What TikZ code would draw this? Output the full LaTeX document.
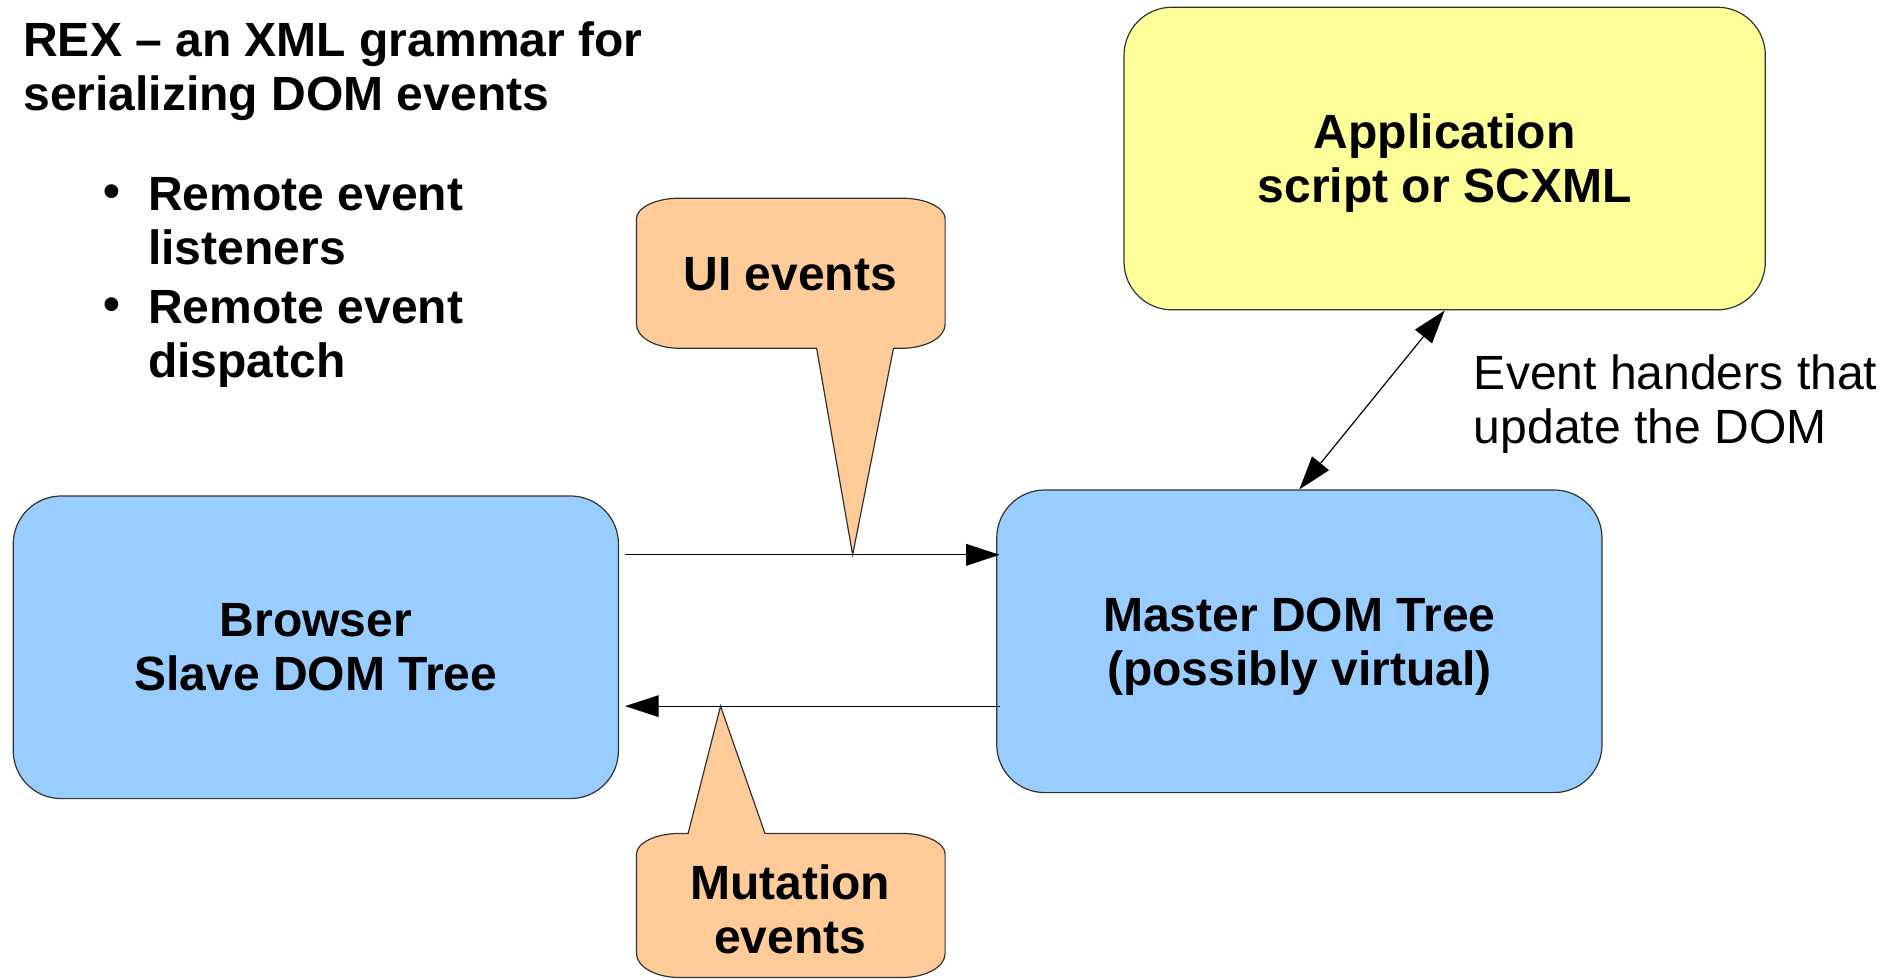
\documentclass[tikz,border=0pt]{standalone}
\usepackage{fontspec}
\setmainfont{Liberation Sans}
\usetikzlibrary{arrows.meta}
\definecolor{boxblue}{HTML}{99CCFF}
\definecolor{boxyellow}{HTML}{FFFF99}
\definecolor{calloutorange}{HTML}{FFCC99}
\definecolor{edgegray}{HTML}{333333}

\begin{document}
\begin{tikzpicture}[x=0.5pt,y=-0.5pt,
  txt/.style={font=\fontsize{20pt}{22.5pt}\selectfont, inner sep=0pt},
  boldtxt/.style={font=\bfseries\fontsize{20pt}{22.5pt}\selectfont, inner sep=0pt},
  block/.style={draw=edgegray, line width=0.5pt, rounded corners=20pt,
    minimum height=126pt, align=center, inner sep=0pt, text depth=0pt,
    font=\bfseries\fontsize{20pt}{22.5pt}\selectfont},
  bubble/.style={draw=edgegray, line width=0.5pt, fill=calloutorange, line join=miter},
  arr/.style={line width=0.5pt, -{Triangle[length=14pt,width=9pt]}},
  dblarr/.style={line width=0.5pt, {Triangle[length=14pt,width=9pt]}-{Triangle[length=14pt,width=9pt]}}]

\useasboundingbox (0,0) rectangle (1568,816);

% heading and bullet list (multi-line nodes sit on the baseline of their last line)
\node[boldtxt, anchor=base west, align=left] (title) at (19,92)
  {REX – an XML grammar for\\serializing DOM events};
\node[boldtxt, anchor=base west] (dot1) at (86,173) {•};
\node[boldtxt, anchor=base west, align=left] (item1) at (123,220) {Remote event\\listeners};
\node[boldtxt, anchor=base west] (dot2) at (86,267) {•};
\node[boldtxt, anchor=base west, align=left] (item2) at (123,314) {Remote event\\dispatch};

% main boxes
\node[block, fill=boxblue, minimum width=252pt] (browser) at (263,539) {Browser\\Slave DOM Tree};
\node[block, fill=boxblue, minimum width=252pt] (master) at (1082,534) {Master DOM Tree\\(possibly virtual)};
\node[block, fill=boxyellow, minimum width=267pt] (app) at (1203,132) {Application\\script or SCXML};

% callout for UI events
\draw[bubble] (566,165) -- (751,165)
  .. controls (771,165) and (787,173) .. (787,182)
  -- (787,270)
  .. controls (787,281) and (771,290) .. (751,290)
  -- (744,290) -- (710,462) -- (680,290)
  -- (566,290)
  .. controls (546,290) and (530,281) .. (530,270)
  -- (530,182)
  .. controls (530,173) and (546,165) .. (566,165) -- cycle;
\node[boldtxt] (ui) at (658,228) {UI events};

% callout for mutation events
\draw[bubble] (566,694) -- (573,694) -- (600,588) -- (637,694) -- (751,694)
  .. controls (771,694) and (787,702) .. (787,711)
  -- (787,794)
  .. controls (787,805) and (771,814) .. (751,814)
  -- (566,814)
  .. controls (546,814) and (530,805) .. (530,794)
  -- (530,711)
  .. controls (530,702) and (546,694) .. (566,694) -- cycle;
\node[boldtxt, align=center] (mut) at (658,757) {Mutation\\events};

% connectors
\draw[arr] ([shift={(5,-77)}]browser.east) -- ([shift={(3,-72)}]master.west);
\draw[arr] ([shift={(3,54)}]master.west) -- ([shift={(5,49)}]browser.east);
\draw[dblarr] (app.south) -- (master.north);

\node[txt, anchor=base west, align=left] (handlers) at (1227,369)
  {Event handers that\\update the DOM};
\end{tikzpicture}
\end{document}
